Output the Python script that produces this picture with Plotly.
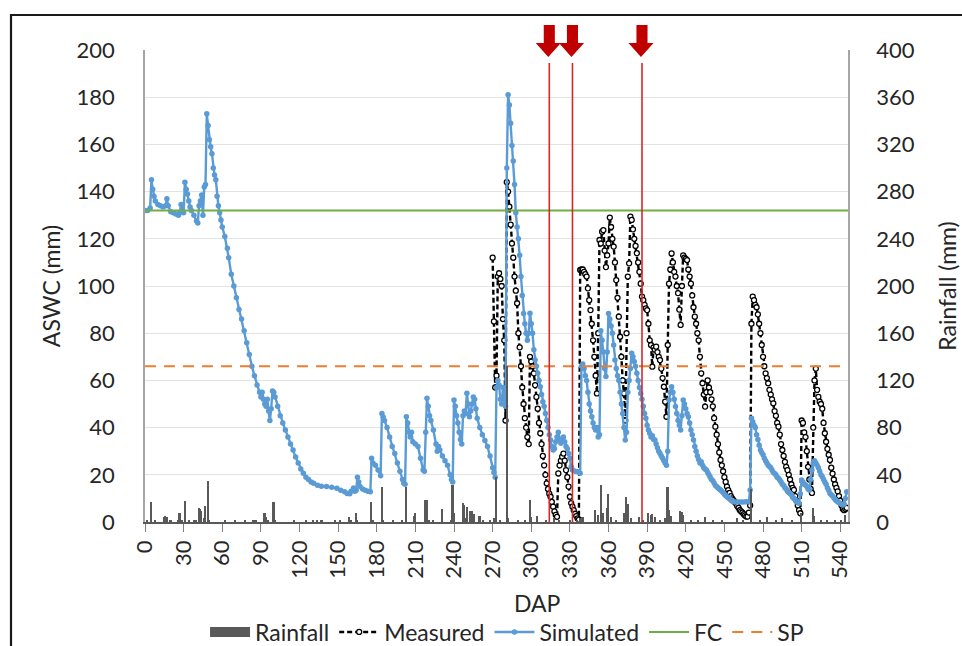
import plotly.graph_objects as go

# ---------------- data ----------------
SIM_DAP = [0, 2, 4, 5, 6, 7, 8, 10, 12, 14, 16, 17, 18, 20, 22, 24, 26, 27, 28, 29, 30,
           31, 32, 33, 34, 35, 36, 38, 40, 41, 42, 43, 44, 45, 46, 47, 48, 49, 50, 51, 52,
           53, 54, 55, 56, 57, 58, 59, 60, 62, 64, 65, 67, 69, 71, 73, 75, 77, 79, 81, 83,
           85, 87, 89, 90, 91, 92, 93, 94, 95, 96, 97, 98, 99, 100, 101, 103, 105, 107, 109,
           111, 113, 115, 117, 119, 121, 123, 125, 127, 129, 131, 134, 137, 141, 145, 149,
           152, 155, 157, 159, 160, 162, 163, 164, 165, 166, 167, 169, 171, 173, 175, 176,
           177, 179, 181, 183, 184, 185, 186, 188, 190, 192, 194, 196, 198, 200, 201, 202,
           203, 204, 205, 206, 207, 208, 210, 212, 214, 216, 217, 218, 219, 220, 221, 222,
           224, 226, 227, 228, 229, 231, 233, 235, 237, 238, 239, 240, 241, 242, 243, 244,
           245, 246, 247, 248, 249, 250, 251, 252, 253, 254, 255, 256, 257, 258, 260, 262,
           264, 266, 268, 270, 271, 272, 273, 274, 275, 276, 277, 278, 279, 280, 281, 282,
           283, 284, 285, 286, 287, 288, 289, 290, 291, 292, 293, 294, 295, 296, 297, 298,
           299, 300, 301, 302, 303, 304, 305, 306, 307, 308, 309, 310, 311, 312, 313, 314,
           315, 316, 317, 318, 319, 320, 321, 322, 323, 324, 325, 326, 327, 328, 329, 330,
           331, 332, 334, 336, 338, 339, 340, 341, 342, 343, 344, 345, 346, 347, 348, 349,
           350, 351, 352, 353, 354, 355, 356, 357, 358, 359, 360, 361, 362, 363, 364, 365,
           366, 367, 368, 369, 370, 371, 372, 373, 374, 375, 376, 377, 378, 379, 380, 381,
           382, 383, 384, 385, 386, 387, 388, 389, 390, 391, 392, 393, 394, 395, 396, 397,
           398, 399, 400, 401, 402, 403, 404, 405, 406, 407, 408, 409, 410, 411, 412, 413,
           414, 415, 416, 417, 418, 419, 420, 421, 422, 423, 424, 425, 426, 427, 428, 429,
           430, 431, 432, 433, 434, 435, 436, 437, 438, 439, 440, 441, 442, 443, 444, 445,
           446, 447, 448, 449, 450, 451, 452, 453, 454, 455, 456, 457, 459, 461, 463, 465,
           467, 469, 470, 471, 472, 473, 474, 475, 476, 477, 478, 479, 480, 481, 482, 483,
           484, 485, 486, 487, 488, 489, 490, 491, 492, 493, 494, 495, 496, 497, 498, 499,
           500, 501, 502, 503, 504, 505, 506, 507, 508, 509, 510, 511, 512, 513, 514, 515,
           516, 517, 518, 519, 520, 521, 522, 523, 524, 525, 526, 527, 528, 529, 530, 531,
           532, 533, 534, 535, 536, 537, 538, 539, 540, 541, 542, 543, 544, 545]
SIM_ASWC = [132, 132, 133, 145, 141, 138, 136, 134.5, 134, 133.5, 134, 137, 134, 131.5, 131,
            130.5, 130, 131, 134.5, 132, 131, 144, 141, 139, 136, 133.5, 132, 130, 127.5,
            126.7, 134, 136, 138.6, 130, 142, 143, 173, 168, 162, 159, 156, 150, 147, 145,
            138, 134, 131, 128, 125, 121, 116, 112, 105, 100, 95, 90, 86, 81, 76, 71, 66,
            62, 58, 55, 53, 55, 52, 50, 49, 52, 47, 43, 48, 55.5, 55, 53, 49, 45, 42, 39,
            36, 33, 30.5, 27.5, 25, 22.5, 20.7, 19, 18, 17, 16.4, 15.6, 15.2, 15, 14.7, 14.3,
            13.5, 12.8, 12.1, 12, 13, 14.4, 13, 13.5, 19, 17, 15, 14, 13.5, 13, 12.8, 27,
            25, 24, 22, 19.6, 46, 44.5, 43, 40, 36, 32, 29, 25, 21.5, 18, 16.4, 16,
            44.6, 42, 38, 36, 38, 34, 33, 32, 27, 22, 21.5, 38, 52.4, 49, 45, 43,
            39, 33, 30, 32, 30.5, 28, 26, 24, 20, 18, 17, 51.7, 49, 45, 42, 38,
            35, 33, 45, 47, 46, 54.6, 50, 44.6, 47, 50, 53, 52, 48, 44, 40, 37,
            34.5, 32, 28, 23, 21, 19, 57, 60, 58, 52, 50, 57, 52, 49, 150, 181,
            176.7, 169, 159.5, 153, 143, 131, 125, 120, 113, 104, 96, 88.4, 84, 80, 77, 80,
            88.5, 84, 80, 73, 68.6, 66, 63, 60, 57.3, 54, 51, 49, 46, 43, 40, 37,
            34.7, 32, 30.5, 31, 34, 36, 38, 35, 33.4, 35, 36, 34, 32, 31, 29, 27,
            23.4, 22, 21.5, 21.3, 20.7, 66, 67, 65, 62, 60, 55, 50, 47, 44.6, 42, 40,
            39, 40, 36, 37, 81, 77, 72, 65, 61.6, 72, 88.4, 86, 83, 80, 75, 68.6,
            65, 62, 60, 55, 50, 46, 40, 34.7, 38, 55, 60, 65, 71.5, 70, 68, 66,
            63, 60, 57, 54.5, 52, 49, 46, 44, 41, 39, 37.6, 36, 36.5, 35, 34.7, 33,
            31.5, 30, 29, 28, 27, 26, 25, 24, 30, 51.7, 55, 57.3, 55, 52, 48.9, 46,
            43, 41, 39, 45, 51.7, 50, 48, 46, 44.6, 42, 39, 37, 34.7, 32, 30, 28,
            26.5, 25, 25.5, 24, 23, 22.5, 22, 21, 20, 19, 18, 17.5, 16.5, 15.5, 15, 14.5,
            14, 13.6, 13, 12.5, 11.8, 11.2, 10.7, 10.3, 9.8, 9.3, 8.9, 8.6, 8.5, 8.5, 8.5, 8.5,
            8.6, 8.6, 13.6, 44, 42.5, 41, 40, 37, 35, 32.5, 30.5, 29.5, 28.5, 27, 26, 25,
            24, 23.5, 23, 22, 21, 20.5, 20, 19, 18.5, 17.8, 17, 16, 15.5, 14.5, 14, 13,
            12.5, 12.1, 11.5, 10.5, 10, 9.5, 8.8, 8.2, 7.9, 12, 17.8, 17, 16, 15.7, 15, 14,
            13.6, 18, 22, 25, 26, 25, 24, 23, 21.5, 20, 19.2, 18, 17, 16, 14.5, 13.5,
            12.1, 11.5, 11, 10.3, 9.5, 9, 8.6, 8.2, 7.8, 7.5, 7.2, 7.5, 10, 12.8]

MEAS_DAP = list(range(270, 546))
MEAS_ASWC = [112, 85, 57, 62, 104, 105.4, 103, 100, 86, 77, 43, 144, 140, 133.6, 126, 118,
             112, 104, 98, 92.7, 80, 74, 66, 57, 50, 44, 40, 36, 33, 70, 68, 66,
             63, 58, 53, 48, 42, 37.6, 33, 28, 24, 20, 16.4, 14, 12, 10.7, 8.5, 6.5,
             4.5, 3, 2.2, 20.6, 24, 26, 27.7, 29, 26, 22, 19, 15, 10.7, 8, 6.5, 5,
             3.5, 2.5, 1.5, 1, 106.8, 107, 107, 106, 105, 104, 99, 94, 89.8, 84, 77, 70,
             62, 54.5, 80, 119.5, 118, 123, 123.7, 115, 108, 113, 118, 129, 125, 120, 116.7, 110,
             102.5, 95, 87, 78.5, 70, 60, 54.5, 43, 80, 104, 109.6, 129.4, 128, 124, 120, 117,
             113.9, 110, 106, 101, 95.5, 94, 92, 90.5, 89.8, 84, 77, 75, 65.8, 74, 73, 74.3,
             72, 70, 68.6, 65, 61, 57.3, 51, 44.6, 75, 101, 107, 113.8, 110, 106, 104, 100,
             97, 90, 83.5, 100, 113, 112, 111.5, 111, 107, 104, 101, 96, 91, 87, 84, 80,
             77, 70, 63, 58.8, 54, 48.9, 55, 60, 57, 55, 52, 49, 44, 40.4, 37, 33,
             29.5, 26.3, 24, 21.5, 19, 17, 15, 13.5, 12.3, 11, 10, 9.3, 8.5, 7.8, 6.8, 6,
             5, 4.5, 4, 3.3, 2.8, 2.3, 2.3, 4, 7, 84, 95.5, 94, 92, 91, 88, 84,
             80, 75, 70, 66, 63, 61, 58.8, 56, 54, 52, 50.3, 47, 45, 42, 40.4, 37,
             33, 30.5, 28, 25.5, 23.4, 22, 20, 18, 16, 14.5, 13.6, 11, 9, 7, 5, 3.7,
             43, 42, 38, 36, 30, 23.4, 18, 14, 12.3, 40, 60, 65, 56, 53, 51, 50,
             48, 42, 37.6, 34, 31, 28.5, 26.3, 23, 20.5, 18, 16, 14.5, 13, 11, 9, 7,
             5.5, 5, 5.5, 6]

RAIN_DAP = [2, 5, 8, 15, 16, 17, 20, 26, 27, 29, 31, 34, 38, 40, 42, 43, 44, 46, 47, 49, 50,
            62, 70, 78, 84, 86, 93, 94, 96, 100, 101, 116, 125, 131, 134, 137, 138, 148,
            152, 159, 160, 164, 165, 176, 177, 184, 185, 193, 200, 203, 209, 210, 218, 219,
            221, 224, 231, 238, 239, 240, 247, 248, 249, 250, 253, 254, 256, 260, 263, 268,
            271, 273, 276, 281, 282, 290, 295, 299, 300, 305, 312, 318, 322, 330, 336, 338,
            340, 350, 352, 354, 356, 359, 360, 362, 366, 372, 374, 375, 378, 384, 387, 391,
            393, 394, 396, 400, 404, 406, 407, 409, 416, 417, 418, 424, 430, 435, 441, 448,
            460, 465, 471, 478, 483, 490, 495, 503, 510, 519, 520, 525, 530, 536, 541, 544]
RAIN_MM = [1, 16.7, 1, 4, 5, 4, 1, 2, 7.6, 1, 17.5, 1, 1, 2, 12, 11, 9, 3, 13.8, 34.4, 2,
           1, 1, 1, 2, 1, 8, 4, 2, 16.7, 1, 1, 1, 1, 1, 2, 2, 1,
           1, 4, 2, 8, 2, 16.7, 2, 30, 1, 2, 1, 30, 5, 8, 18.5, 19,
           2, 2, 11, 2, 31, 8, 16, 14, 3, 13, 9, 9, 7, 5, 1, 2,
           3, 38, 2, 132, 3, 2, 2, 18.6, 4, 5, 2, 3, 2, 2, 2, 3,
           4, 10, 6, 31, 8, 12, 24, 4, 2, 8, 21, 15, 3, 4, 2, 8,
           6, 7, 4, 2, 3, 30, 10, 5, 9.6, 8.7, 6, 2, 2, 4.5, 1, 2,
           3, 2, 28, 2, 4, 2, 3, 2, 8, 12, 5, 2, 1, 2, 2, 6]

FC_VALUE = 132
SP_VALUE = 66
EVENT_DAP = [314, 332, 386]
X_TICKS = list(range(0, 541, 30))

# ---------------- styling ----------------
FONT = "Lato, 'Open Sans', sans-serif"
FS = 22      # tick labels
FT = 23      # titles and legend
TXT = "#262626"
BLUE = "#5B9BD5"
GREEN = "#70AD47"
ORANGE = "#ED7D31"
RED_LINE = "#D42A2A"
RED_ARROW = "#C00000"
RAIN_GREY = "#595959"

fig = go.Figure()

# legend entry for rainfall drawn as a wide grey block (the bars themselves have no legend item)
fig.add_trace(go.Scatter(
    x=[None], y=[None], name="Rainfall", mode="lines",
    line=dict(color=RAIN_GREY, width=14), legendrank=1,
))
fig.add_trace(go.Bar(
    x=RAIN_DAP, y=RAIN_MM, name="Rainfall", yaxis="y2", showlegend=False,
    marker=dict(color=RAIN_GREY, line=dict(width=0)), width=1.2,
))
fig.add_trace(go.Scatter(
    x=MEAS_DAP, y=MEAS_ASWC, name="Measured", mode="lines+markers", legendrank=2,
    line=dict(color="black", width=2.4, dash="5px,3px"),
    marker=dict(symbol="circle", size=5, color="white", line=dict(color="black", width=1.3)),
))
fig.add_trace(go.Scatter(
    x=SIM_DAP, y=SIM_ASWC, name="Simulated", mode="lines+markers", legendrank=3,
    line=dict(color=BLUE, width=2.4),
    marker=dict(symbol="circle", size=5.5, color=BLUE),
))
fig.add_trace(go.Scatter(
    x=[0, 546], y=[FC_VALUE, FC_VALUE], name="FC", mode="lines", legendrank=4,
    line=dict(color=GREEN, width=2),
))
fig.add_trace(go.Scatter(
    x=[0, 546], y=[SP_VALUE, SP_VALUE], name="SP", mode="lines", legendrank=5,
    line=dict(color=ORANGE, width=2, dash="11px,8px"),
))

shapes = []
for d in EVENT_DAP:
    shapes.append(dict(type="line", xref="x", yref="paper", x0=d, x1=d, y0=0, y1=0.9725,
                       line=dict(color=RED_LINE, width=1.6)))
    # block arrow above each event line
    path = (f"M {d-4.3} 1.053 L {d+4.3} 1.053 L {d+4.3} 1.0148 L {d+9} 1.0148 "
            f"L {d-0.8} 0.9852 L {d-10.5} 1.0148 L {d-4.3} 1.0148 Z")
    shapes.append(dict(type="path", xref="x", yref="paper", path=path,
                       fillcolor=RED_ARROW, line=dict(width=0)))
# outer frame of the figure
shapes.append(dict(type="rect", xref="paper", yref="paper", x0=-0.1906, x1=1.25,
                   y0=-0.4, y1=1.0742, line=dict(color="#1a1a1a", width=2.2),
                   fillcolor="rgba(0,0,0,0)", layer="below"))

fig.update_layout(
    width=962, height=646,
    margin=dict(l=145, r=114, t=50, b=124, autoexpand=False),
    paper_bgcolor="white", plot_bgcolor="white",
    font=dict(family=FONT, size=FS, color=TXT),
    bargap=0,
    showlegend=True,
    legend=dict(orientation="h", x=0.515, xanchor="center", y=-0.233, yanchor="middle",
                font=dict(size=FT, color=TXT), itemwidth=40, tracegroupgap=0,
                bgcolor="rgba(0,0,0,0)"),
    xaxis=dict(range=[0, 546], tickvals=X_TICKS, tickangle=-90, ticks="outside",
               ticklen=8, tickcolor="#7f7f7f", tickwidth=1.3, automargin=False,
               showline=True, linecolor="#595959", linewidth=1.5,
               showgrid=False, zeroline=False,
               tickfont=dict(size=FS)),
    yaxis=dict(range=[0, 200], dtick=20, showgrid=True, gridcolor="#e3e3e3", gridwidth=1,
               showline=True, linecolor="#a6a6a6", linewidth=1.5, zeroline=False,
               ticks="", ticklabelstandoff=24, automargin=False,
               title=dict(text="ASWC (mm)", standoff=10, font=dict(size=FT)),
               tickfont=dict(size=FS)),
    yaxis2=dict(range=[0, 400], dtick=40, overlaying="y", side="right",
                showgrid=False, showline=True, linecolor="#a6a6a6", linewidth=1.5,
                zeroline=False, ticks="", ticklabelstandoff=22, automargin=False,
                title=dict(text="Rainfall (mm)", standoff=26, font=dict(size=FT)),
                tickfont=dict(size=FS)),
    shapes=shapes,
    annotations=[dict(text="DAP", xref="paper", yref="paper", x=0.558, y=-0.1716,
                      xanchor="center", yanchor="middle", showarrow=False,
                      font=dict(size=FT, color=TXT))],
)

fig.write_html("out.html")
